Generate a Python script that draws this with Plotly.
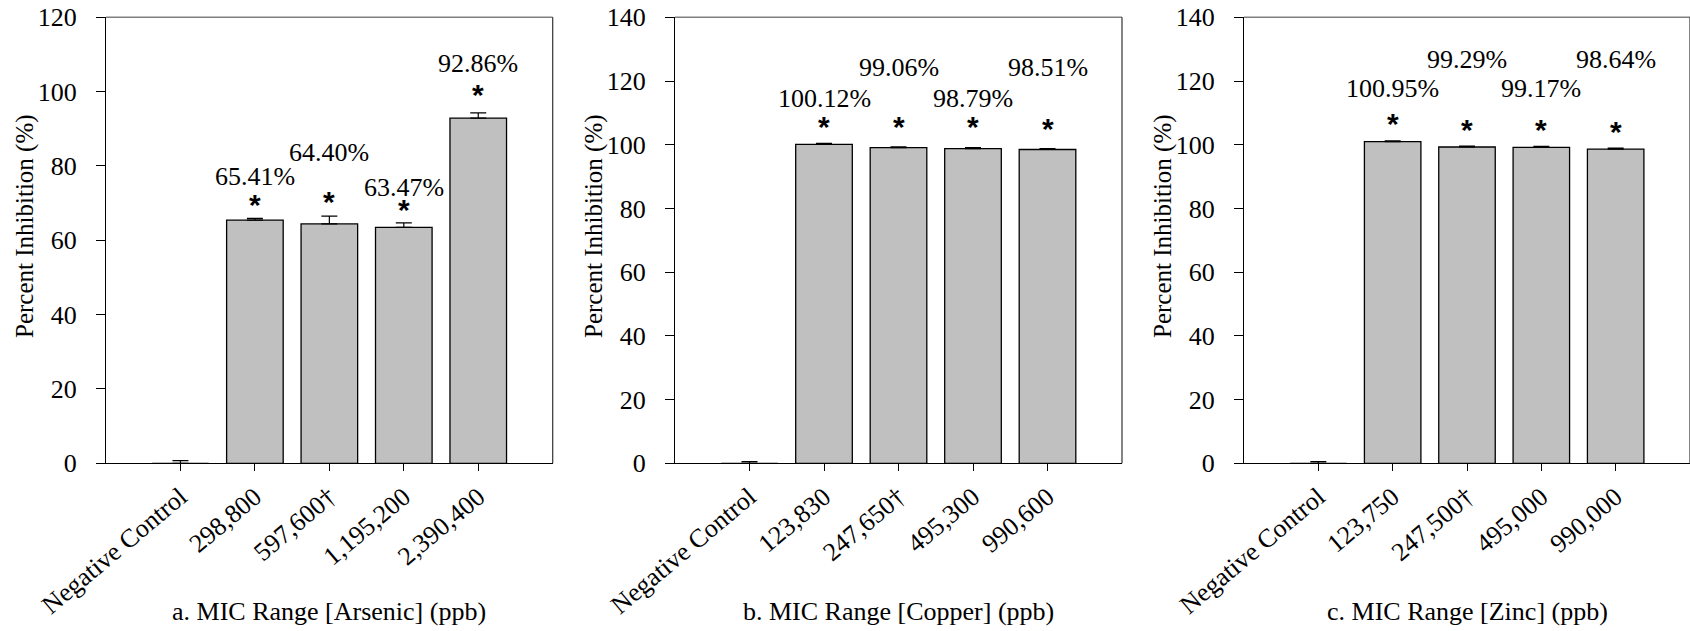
import plotly.graph_objects as go

# Percent inhibition per metal, with the MIC range concentrations on the x axis
categories_arsenic = ["Negative Control", "298,800", "597,600†", "1,195,200", "2,390,400"]
inhibition_arsenic = [0.0, 65.41, 64.40, 63.47, 92.86]
error_arsenic = [0.7, 0.5, 2.1, 1.2, 1.4]

categories_copper = ["Negative Control", "123,830", "247,650†", "495,300", "990,600"]
inhibition_copper = [0.0, 100.12, 99.06, 98.79, 98.51]
error_copper = [0.5, 0.3, 0.3, 0.3, 0.3]

categories_zinc = ["Negative Control", "123,750", "247,500†", "495,000", "990,000"]
inhibition_zinc = [0.0, 100.95, 99.29, 99.17, 98.64]
error_zinc = [0.5, 0.3, 0.3, 0.3, 0.3]

axis_titles = ["a. MIC Range [Arsenic] (ppb)",
               "b. MIC Range [Copper] (ppb)",
               "c. MIC Range [Zinc] (ppb)"]

# Heights (in axis units) where the value labels and significance stars sit
label_heights = [[77.2, 83.5, 74.1, 107.5],
                 [114.4, 124.1, 114.4, 124.1],
                 [117.5, 126.9, 117.5, 126.9]]
star_heights = [[71.8, 72.7, 70.5, 101.3],
                [108.1, 108.1, 108.1, 107.7],
                [109.2, 107.4, 107.4, 106.7]]

W, H = 1690, 631
SERIF = "Liberation Serif, Times New Roman, serif"
FS = 26

x_domains = [[106 / W, 552.7 / W], [675 / W, 1122 / W], [1244 / W, 1.0]]
y_domain = [1 - 463.3 / H, 1 - 17.3 / H]
y_max = [120, 140, 140]

panels = [
    (categories_arsenic, inhibition_arsenic, error_arsenic),
    (categories_copper, inhibition_copper, error_copper),
    (categories_zinc, inhibition_zinc, error_zinc),
]

fig = go.Figure()
annotations = []
shapes = []

for i, (cats, vals, errs) in enumerate(panels):
    n = "" if i == 0 else str(i + 1)
    xa, ya = "x" + n, "y" + n
    fig.add_trace(go.Bar(
        x=cats, y=vals, xaxis=xa, yaxis=ya, width=0.76,
        marker=dict(color="#c0c0c0", line=dict(color="black", width=1.3)),
        error_y=dict(type="data", array=errs, arrayminus=[0] * len(errs),
                     symmetric=False, color="black", thickness=1.2, width=8),
        showlegend=False, hoverinfo="x+y",
    ))

    fig.update_layout(**{
        "xaxis" + n: dict(
            domain=x_domains[i], anchor=ya, type="category", automargin=False,
            range=[-1, 5], showline=True, linecolor="black", linewidth=1.2,
            ticks="outside", ticklen=7, tickcolor="black", tickwidth=1,
            tickangle=-40, showgrid=False, zeroline=False,
            tickfont=dict(family=SERIF, size=FS, color="black"),
            fixedrange=True,
        ),
        "yaxis" + n: dict(
            domain=y_domain, anchor=xa, range=[0, y_max[i]], dtick=20,
            automargin=False,
            showline=True, linecolor="black", linewidth=1.2,
            ticks="outside", ticklen=9, tickcolor="black", tickwidth=1,
            showgrid=False, zeroline=False, ticklabelstandoff=14,
            tickfont=dict(family=SERIF, size=FS, color="black"),
            fixedrange=True,
        ),
    })

    # frame: grey top edge, dark right edge
    shapes.append(dict(type="line", xref=xa + " domain", yref=ya + " domain",
                       x0=0, x1=1, y0=1, y1=1, line=dict(color="#7f7f7f", width=1.5)))
    shapes.append(dict(type="line", xref=xa + " domain", yref=ya + " domain",
                       x0=1, x1=1, y0=0, y1=1, line=dict(color="#333333", width=1.2)))

    # value labels and stars above the treated groups
    for j in range(1, len(cats)):
        annotations.append(dict(
            x=cats[j], y=label_heights[i][j - 1], xref=xa, yref=ya,
            text=f"{vals[j]:.2f}%", showarrow=False, yanchor="middle",
            font=dict(family=SERIF, size=FS, color="black"),
        ))
        annotations.append(dict(
            x=cats[j], y=star_heights[i][j - 1], xref=xa, yref=ya,
            text="<b>*</b>", showarrow=False, yanchor="middle", yshift=-8,
            font=dict(family="Liberation Sans", size=30, color="black"),
        ))

    # axis titles
    x0, x1 = x_domains[i]
    annotations.append(dict(
        x=(106 + 446.7 / 2 + [0, 569, 1138][i]) / W, y=1 - 611 / H,
        xref="paper", yref="paper", text=axis_titles[i], showarrow=False,
        xanchor="center", yanchor="middle",
        font=dict(family=SERIF, size=FS, color="black"),
    ))
    annotations.append(dict(
        x=(x0 * W - 81) / W, y=1 - 226 / H, xref="paper", yref="paper",
        text="Percent Inhibition (%)", textangle=-90, showarrow=False,
        xanchor="center", yanchor="middle",
        font=dict(family=SERIF, size=25, color="black"),
    ))

fig.update_layout(
    width=W, height=H,
    margin=dict(l=0, r=0, t=0, b=0),
    paper_bgcolor="white", plot_bgcolor="white",
    annotations=annotations, shapes=shapes,
    bargap=0.24,
)

fig.write_html("out.html")
